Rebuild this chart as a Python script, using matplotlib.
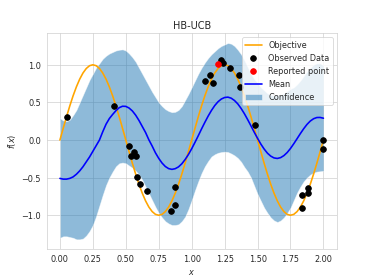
import numpy as np
import matplotlib
matplotlib.use("Agg")
import matplotlib.pyplot as plt
import seaborn as sns

x_grid = [0.000, 0.025, 0.050, 0.075, 0.100, 0.125, 0.150, 0.175, 0.200, 0.225,
          0.250, 0.275, 0.300, 0.325, 0.350, 0.375, 0.400, 0.425, 0.450, 0.475,
          0.500, 0.525, 0.550, 0.575, 0.600, 0.625, 0.650, 0.675, 0.700, 0.725,
          0.750, 0.775, 0.800, 0.825, 0.850, 0.875, 0.900, 0.925, 0.950, 0.975,
          1.000, 1.025, 1.050, 1.075, 1.100, 1.125, 1.150, 1.175, 1.200, 1.225,
          1.250, 1.275, 1.300, 1.325, 1.350, 1.375, 1.400, 1.425, 1.450, 1.475,
          1.500, 1.525, 1.550, 1.575, 1.600, 1.625, 1.650, 1.675, 1.700, 1.725,
          1.750, 1.775, 1.800, 1.825, 1.850, 1.875, 1.900, 1.925, 1.950, 1.975,
          2.000]

objective = [0.000, 0.156, 0.309, 0.454, 0.588, 0.707, 0.809, 0.891, 0.951, 0.988,
             1.000, 0.988, 0.951, 0.891, 0.809, 0.707, 0.588, 0.454, 0.309, 0.156,
             0.000, -0.156, -0.309, -0.454, -0.588, -0.707, -0.809, -0.891, -0.951, -0.988,
             -1.000, -0.988, -0.951, -0.891, -0.809, -0.707, -0.588, -0.454, -0.309, -0.156,
             0.000, 0.156, 0.309, 0.454, 0.588, 0.707, 0.809, 0.891, 0.951, 0.988,
             1.000, 0.988, 0.951, 0.891, 0.809, 0.707, 0.588, 0.454, 0.309, 0.156,
             0.000, -0.156, -0.309, -0.454, -0.588, -0.707, -0.809, -0.891, -0.951, -0.988,
             -1.000, -0.988, -0.951, -0.891, -0.809, -0.707, -0.588, -0.454, -0.309, -0.156,
             0.000]

mean = [-0.51, -0.52, -0.52, -0.51, -0.49, -0.455, -0.41, -0.355, -0.29, -0.225,
        -0.15, -0.075, 0.00, 0.11, 0.21, 0.285, 0.34, 0.39, 0.43, 0.449,
        0.447, 0.425, 0.386, 0.33, 0.26, 0.18, 0.10, 0.003, -0.08, -0.17,
        -0.244, -0.306, -0.352, -0.38, -0.39, -0.381, -0.357, -0.316, -0.26, -0.193,
        -0.116, -0.031, 0.057, 0.148, 0.235, 0.318, 0.393, 0.458, 0.509, 0.545,
        0.565, 0.57, 0.556, 0.525, 0.48, 0.42, 0.35, 0.271, 0.188, 0.103,
        0.022, -0.054, -0.12, -0.175, -0.214, -0.238, -0.245, -0.234, -0.207, -0.166,
        -0.112, -0.049, 0.018, 0.086, 0.15, 0.207, 0.252, 0.283, 0.299, 0.30,
        0.29]

upper = [0.29, 0.26, 0.25, 0.27, 0.33, 0.40, 0.50, 0.60, 0.70, 0.80,
         0.88, 0.96, 1.02, 1.08, 1.12, 1.15, 1.17, 1.19, 1.20, 1.205,
         1.19, 1.15, 1.10, 1.04, 0.96, 0.88, 0.80, 0.72, 0.64, 0.57,
         0.50, 0.45, 0.41, 0.385, 0.37, 0.375, 0.40, 0.45, 0.53, 0.61,
         0.70, 0.79, 0.88, 0.96, 1.03, 1.09, 1.14, 1.18, 1.22, 1.25,
         1.27, 1.29, 1.28, 1.25, 1.20, 1.14, 1.06, 0.97, 0.88, 0.81,
         0.76, 0.70, 0.66, 0.62, 0.60, 0.59, 0.60, 0.60, 0.62, 0.65,
         0.68, 0.70, 0.74, 0.79, 0.85, 0.91, 0.96, 1.00, 1.02, 1.02,
         0.99]

lower = [-1.30, -1.28, -1.28, -1.29, -1.30, -1.32, -1.32, -1.31, -1.27, -1.21,
         -1.13, -1.01, -0.87, -0.73, -0.60, -0.50, -0.42, -0.35, -0.31, -0.30,
         -0.31, -0.34, -0.37, -0.41, -0.46, -0.53, -0.62, -0.71, -0.80, -0.89,
         -0.97, -1.03, -1.08, -1.11, -1.13, -1.13, -1.12, -1.08, -1.02, -0.92,
         -0.80, -0.67, -0.55, -0.44, -0.35, -0.28, -0.22, -0.19, -0.17, -0.16,
         -0.155, -0.16, -0.18, -0.205, -0.24, -0.29, -0.36, -0.42, -0.50, -0.61,
         -0.72, -0.81, -0.90, -0.97, -1.03, -1.07, -1.09, -1.07, -1.03, -0.97,
         -0.90, -0.80, -0.70, -0.62, -0.55, -0.50, -0.46, -0.435, -0.42, -0.415,
         -0.41]

obs_x = [0.056, 0.414, 0.523, 0.536, 0.56, 0.574, 0.586, 0.604, 0.662, 0.844,
         0.871, 0.871, 1.104, 1.14, 1.162, 1.222, 1.237, 1.29, 1.359, 1.364,
         1.482, 1.836, 1.84, 1.88, 1.886, 2.0, 2.0]
obs_y = [0.30, 0.457, -0.08, -0.21, -0.156, -0.21, -0.49, -0.58, -0.676, -0.94,
         -0.62, -0.87, 0.79, 0.86, 0.756, 1.067, 1.02, 0.96, 0.87, 0.71,
         0.20, -0.90, -0.73, -0.64, -0.71, 0.0, -0.124]

best_x = [1.197]
best_y = [1.004]

sns.set_style("whitegrid")
plt.rcParams['font.family'] = ['DejaVu Sans']

fig, ax = plt.subplots(figsize=(6.4, 4.8), dpi=58.44)

ax.plot(x_grid, objective, color='orange', lw=2, label='Objective')
ax.plot(obs_x, obs_y, 'ko', ms=7, label='Observed Data')
ax.plot(best_x, best_y, 'ro', ms=7, label='Reported point')
ax.plot(x_grid, mean, 'b', lw=2, label='Mean')
ax.fill_between(x_grid, lower, upper, alpha=0.5, zorder=1, label='Confidence')

ax.set_title("HB-UCB")
ax.set_xlabel("$x$")
ax.set_ylabel("$f(x)$")
ax.legend(loc='upper right')

fig.savefig("out.png")
